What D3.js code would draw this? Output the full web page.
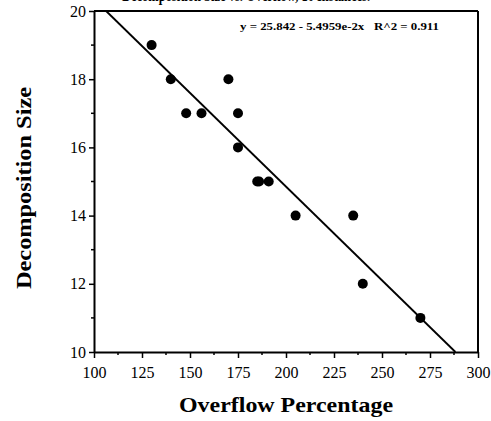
<!DOCTYPE html>
<html><head><meta charset="utf-8">
<script src="https://cdn.jsdelivr.net/npm/d3@7"></script>
<style>body{margin:0;background:#fff}svg{display:block}</style>
</head><body>
<script>
const overflowPct = [130, 140, 148, 156, 170, 175, 175, 185, 191, 205, 235, 240, 270];
const decompSize  = [19, 18, 17, 17, 18, 17, 16, 15, 15, 14, 14, 12, 11];
const extraX = [186]; const extraY = [15];
const xTicks = [100, 125, 150, 175, 200, 225, 250, 275, 300];
const yTicks = [10, 12, 14, 16, 18, 20];
const fitIntercept = 25.842, fitSlope = -0.054959;
const eqText = "y = 25.842 - 5.4959e-2x   R^2 = 0.911";

const W = 491, H = 421;
const m = {left: 94, top: 11, right: 478, bottom: 352};
const svg = d3.select("body").append("svg").attr("width", W).attr("height", H);
const x = d3.scaleLinear().domain([100, 300]).range([m.left, m.right]);
const y = d3.scaleLinear().domain([10, 20]).range([m.bottom, m.top]);
const serif = "Liberation Serif";

// clipped title above plot (only its lower edge is visible in the reference)
svg.append("text").attr("x", 122).attr("y", 1)
  .attr("font-family", serif).attr("font-weight", "bold").attr("font-size", 16)
  .attr("textLength", 248).attr("lengthAdjust", "spacingAndGlyphs")
  .text("Decomposition Size vs. Overflow, 10 Instances.");

// minor ticks
const xMinor = d3.range(112.5, 300, 25);
const yMinor = d3.range(11, 20, 2);
svg.append("g").selectAll("line").data(xMinor).join("line")
  .attr("x1", d => x(d)).attr("x2", d => x(d)).attr("y1", m.bottom).attr("y2", m.bottom + 3)
  .attr("stroke", "#000").attr("stroke-width", 1.5);
svg.append("g").selectAll("line").data(yMinor).join("line")
  .attr("y1", d => y(d)).attr("y2", d => y(d)).attr("x1", m.left).attr("x2", m.left - 3)
  .attr("stroke", "#000").attr("stroke-width", 1.5);

const xAxis = svg.append("g").attr("transform", `translate(0,${m.bottom})`)
  .call(d3.axisBottom(x).tickValues(xTicks).tickSize(6).tickSizeOuter(0).tickPadding(9));
const yAxis = svg.append("g").attr("transform", `translate(${m.left},0)`)
  .call(d3.axisLeft(y).tickValues(yTicks).tickSize(5).tickSizeOuter(0).tickPadding(3));
[xAxis, yAxis].forEach(g => {
  g.select(".domain").attr("stroke-width", 2);
  g.selectAll(".tick line").attr("stroke-width", 1.5);
  g.selectAll("text").attr("font-family", serif).attr("font-size", 16).attr("fill", "#000");
});
// top and right border
svg.append("line").attr("x1", m.left).attr("x2", m.right).attr("y1", m.top).attr("y2", m.top)
  .attr("stroke", "#000").attr("stroke-width", 2);
svg.append("line").attr("x1", m.right).attr("x2", m.right).attr("y1", m.top).attr("y2", m.bottom)
  .attr("stroke", "#000").attr("stroke-width", 2);

// regression line clipped to plot
const x0 = (fitIntercept - 20) / -fitSlope, x1 = (fitIntercept - 10) / -fitSlope;
svg.append("line").attr("x1", x(x0)).attr("y1", y(20)).attr("x2", x(x1)).attr("y2", y(10))
  .attr("stroke", "#000").attr("stroke-width", 1.8);

const pts = overflowPct.map((v, i) => [v, decompSize[i]]).concat(extraX.map((v, i) => [v, extraY[i]]));
svg.append("g").selectAll("circle").data(pts).join("circle")
  .attr("cx", d => x(d[0])).attr("cy", d => y(d[1])).attr("r", 5).attr("fill", "#000");

svg.append("text").attr("x", 240).attr("y", 30).attr("font-family", serif).attr("font-weight", "bold")
  .attr("font-size", 11).attr("textLength", 199).attr("lengthAdjust", "spacingAndGlyphs")
  .attr("xml:space", "preserve").style("white-space", "pre").text(eqText);

svg.append("text").attr("x", 286).attr("y", 412).attr("text-anchor", "middle")
  .attr("font-family", serif).attr("font-weight", "bold").attr("font-size", 21)
  .attr("textLength", 214).attr("lengthAdjust", "spacingAndGlyphs").text("Overflow Percentage");
svg.append("text").attr("transform", "translate(31,188) rotate(-90)").attr("text-anchor", "middle")
  .attr("font-family", serif).attr("font-weight", "bold").attr("font-size", 21)
  .attr("textLength", 202).attr("lengthAdjust", "spacingAndGlyphs").text("Decomposition Size");
</script>
</body></html>
